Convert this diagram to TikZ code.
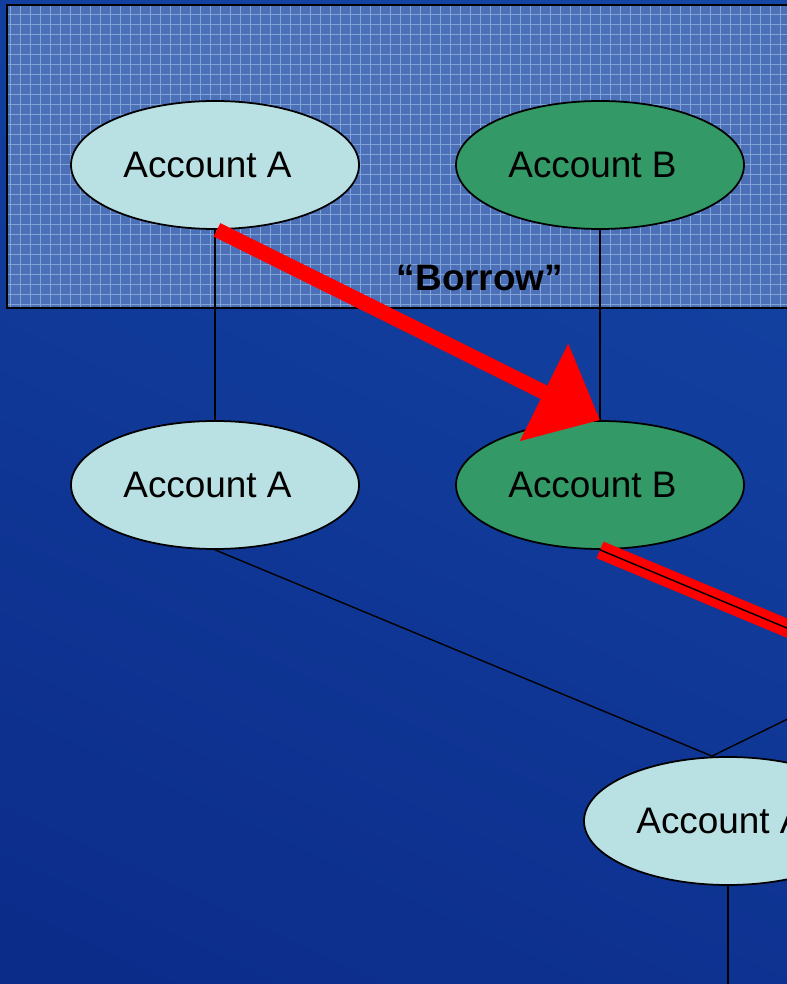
\documentclass[tikz,border=0pt]{standalone}
\usepackage{fontspec}
\setmainfont{Liberation Sans}
\usetikzlibrary{shapes.geometric,arrows.meta}
\definecolor{bgtop}{HTML}{1446A6}
\definecolor{bgbot}{HTML}{0C2C8A}
\definecolor{band}{HTML}{4C70B8}
\definecolor{bandgrid}{HTML}{82A3D6}
\definecolor{acctlight}{HTML}{B9E0E2}
\definecolor{acctgreen}{HTML}{339966}

\begin{document}
\begin{tikzpicture}[
	acct/.style={ellipse,draw=black,line width=1pt,minimum width=5.76cm,minimum height=2.56cm,inner sep=0pt,font=\fontsize{21}{25}\selectfont,execute at end node={\hspace{0.3cm}}},
	acctA/.style={acct,fill=acctlight},
	acctB/.style={acct,fill=acctgreen},
	link/.style={draw=black,line width=0.8pt}
	]
		\useasboundingbox (0,0) rectangle (15.74,19.68);
		\clip (0,0) rectangle (15.74,19.68);
		\shade[top color=bgtop,bottom color=bgbot,shading angle=-25] (-2,-2) rectangle (18,22);

		% upper band
		\fill[band] (0.14,13.52) rectangle (16,19.58);
		\draw[bandgrid,line width=0.5pt,step=0.2] (0.14,13.52) grid (16,19.58);
		\draw[black,line width=1.2pt] (0.14,13.52) rectangle (16,19.58);

		\node[acctA] (topA) at (4.30,16.38) {Account A};
		\node[acctB] (topB) at (12.00,16.38) {Account B};
		\node[acctA] (midA) at (4.30,9.98) {Account A};
		\node[acctB] (midB) at (12.00,9.98) {Account B};
		\node[acctA] (botA) at (14.56,3.26) {Account A};

		\node[font=\bfseries\fontsize{21}{25}\selectfont] (borrow) at (9.60,14.12) {“Borrow”};

		% ends that run off the page
		\coordinate (offB) at (22.6,8.66);
		\coordinate (offRed) at (22.0,4.50);
		\coordinate (bottomEnd) at (14.56,-0.3);

		\draw[link] (topA) -- (midA);
		\draw[link] (topB) -- (midB);
		\draw[link] (midA.south) -- ([xshift=-0.32cm]botA.north);
		\draw[link] (offB) -- ([xshift=-0.32cm]botA.north);
		\draw[link] (botA) -- (bottomEnd);

		\draw[red,line width=0.36cm] (midB.south) -- (offRed);
		\draw[link] (midB.south) -- (offRed);

		\draw[red,line width=0.3cm,-{Triangle[length=1.25cm,width=2.1cm]}] ([xshift=0.04cm]topA.south) -- (midB.north);
	\end{tikzpicture}
\end{document}
